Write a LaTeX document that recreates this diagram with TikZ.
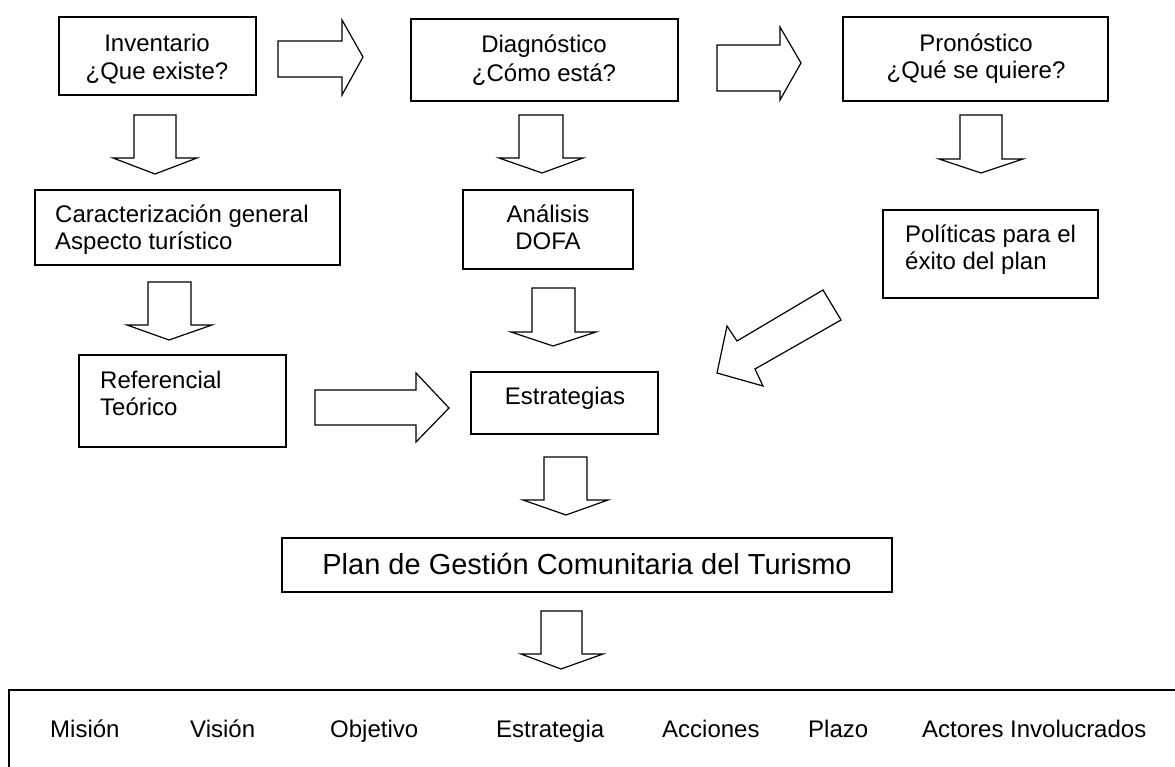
\documentclass[tikz,border=0pt]{standalone}
\usepackage{fontspec}
\setmainfont{Liberation Sans}
\begin{document}
\begin{tikzpicture}[x=1pt,y=-1pt,
  box/.style={draw, line width=1.5pt, inner sep=0pt},
  blk/.style={draw, line width=1.2pt, fill=white, line join=miter},
  lbl/.style={inner sep=0pt, anchor=base, font=\fontsize{24}{28}\selectfont},
  lbll/.style={lbl, anchor=base west},
  big/.style={inner sep=0pt, anchor=base, font=\fontsize{29}{34}\selectfont}]
\useasboundingbox (0,0) rectangle (1175,767);
\clip (0,0) rectangle (1175,767);

% boxes
\node[box, minimum width=197pt, minimum height=78pt] (inv) at (157.5,56) {};
\node[box, minimum width=305pt, minimum height=75pt] (car) at (187.5,227.5) {};
\node[box, minimum width=267pt, minimum height=82pt] (diag) at (544.5,60) {};
\node[box, minimum width=170pt, minimum height=79pt] (dofa) at (548,229.5) {};
\node[box, minimum width=265pt, minimum height=84pt] (pron) at (975.5,59) {};
\node[box, minimum width=215pt, minimum height=88pt] (pol) at (990.5,254) {};
\node[box, minimum width=207pt, minimum height=92pt] (ref) at (182.5,401) {};
\node[box, minimum width=187pt, minimum height=62pt] (est) at (564.5,403) {};
\node[box, minimum width=610pt, minimum height=54pt] (plan) at (587,565) {};
\node[box, minimum width=1180pt, minimum height=110pt] (tabla) at (599,745) {};

% texts
\node[lbl] (inv1) at (157,52) {Inventario};
\node[lbl] (inv2) at (157,80) {¿Que existe?};
\node[lbll] (car1) at (55,223) {Caracterización general};
\node[lbll] (car2) at (55,250) {Aspecto turístico};
\node[lbl] (diag1) at (544,53) {Diagnóstico};
\node[lbl] (diag2) at (544,82) {¿Cómo está?};
\node[lbl] (dofa1) at (548,223) {Análisis};
\node[lbl] (dofa2) at (548,250) {DOFA};
\node[lbl] (pron1) at (976,52) {Pronóstico};
\node[lbl] (pron2) at (976,79) {¿Qué se quiere?};
\node[lbll] (pol1) at (905,243) {Políticas para el};
\node[lbll] (pol2) at (905,270) {éxito del plan};
\node[lbll] (ref1) at (100,388) {Referencial};
\node[lbll] (ref2) at (100,415) {Teórico};
\node[lbl] (est1) at (565,404) {Estrategias};
\node[big] (plan1) at (587,574) {Plan de Gestión Comunitaria del Turismo};
\node[lbll] (t1) at (50,737) {Misión};
\node[lbll] (t2) at (190,737) {Visión};
\node[lbll] (t3) at (330,737) {Objetivo};
\node[lbll] (t4) at (496,737) {Estrategia};
\node[lbll] (t5) at (662,737) {Acciones};
\node[lbll] (t6) at (808,737) {Plazo};
\node[lbll] (t7) at (922,737) {Actores Involucrados};

% right block arrows
\draw[blk] (278,41) -- (342,41) -- (342,20) -- (363,57) -- (342,95) -- (342,77) -- (278,77) -- cycle;
\draw[blk] (717,45) -- (780,45) -- (780,27) -- (801,63) -- (780,100) -- (780,91) -- (717,91) -- cycle;
\draw[blk] (315,390) -- (416,390) -- (416,373) -- (449,408) -- (416,442) -- (416,425) -- (315,425) -- cycle;

% down block arrows
\draw[blk] (134,115) -- (176,115) -- (176,158) -- (197,158) -- (155,174) -- (113,158) -- (134,158) -- cycle;
\draw[blk] (519,115) -- (563,115) -- (563,158) -- (583,158) -- (542,173) -- (499,158) -- (519,158) -- cycle;
\draw[blk] (960,115) -- (1002,115) -- (1002,159) -- (1023,159) -- (981,173) -- (939,159) -- (960,159) -- cycle;
\draw[blk] (148,282) -- (191,282) -- (191,325) -- (212,325) -- (169,340) -- (127,325) -- (148,325) -- cycle;
\draw[blk] (532,288) -- (575,288) -- (575,332) -- (596,332) -- (553,346) -- (511,332) -- (532,332) -- cycle;
\draw[blk] (544,457) -- (587,457) -- (587,500) -- (608,500) -- (566,515) -- (523,500) -- (544,500) -- cycle;
\draw[blk] (541,611) -- (582,611) -- (582,654) -- (603,654) -- (561,669) -- (521,654) -- (541,654) -- cycle;

% diagonal block arrow
\draw[blk] (823,290) -- (737,341) -- (727,326) -- (717,373) -- (763,386) -- (755,369) -- (841,320) -- cycle;
\end{tikzpicture}
\end{document}
